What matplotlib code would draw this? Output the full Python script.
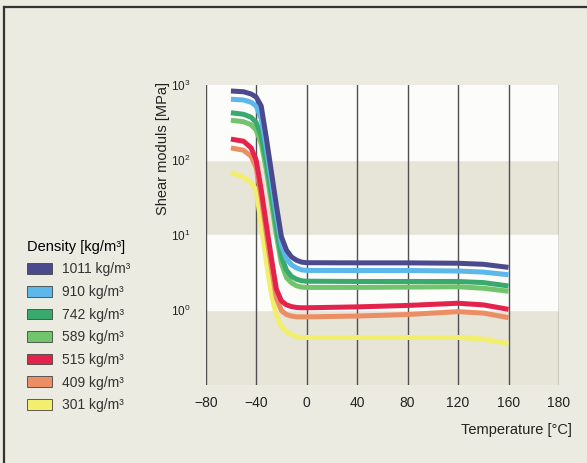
import matplotlib
matplotlib.use('Agg')
import matplotlib.pyplot as plt
from matplotlib.patches import Patch
from matplotlib.lines import Line2D

plt.rcParams['font.family'] = ['Liberation Sans', 'DejaVu Sans']
plt.rcParams['mathtext.fontset'] = 'custom'
plt.rcParams['mathtext.rm'] = 'Liberation Sans'

# temperature grid [°C]
temp = [-60, -50, -44, -40, -36, -32, -28, -24, -20, -16, -12, -8, -4, 0,
        40, 80, 120, 140, 160]

# shear modulus [MPa] per density
g_1011 = [832, 813, 759, 692, 525, 200, 71, 25, 9.5, 6.3, 5.1, 4.6, 4.35, 4.27,
          4.25, 4.25, 4.2, 4.07, 3.7]
g_910 = [646, 631, 589, 525, 355, 148, 52, 18.6, 7.4, 4.8, 4.0, 3.63, 3.43, 3.37,
         3.36, 3.36, 3.31, 3.2, 2.95]
g_742 = [427, 407, 372, 316, 209, 95, 35, 12.6, 5.2, 3.4, 2.8, 2.57, 2.45, 2.42,
         2.4, 2.4, 2.4, 2.32, 2.09]
g_589 = [339, 324, 295, 251, 166, 76, 28, 10, 4.2, 2.7, 2.3, 2.1, 2.02, 2.0,
         2.0, 2.02, 2.04, 1.95, 1.78]
g_515 = [190, 178, 145, 100, 40, 14, 5.0, 1.9, 1.32, 1.17, 1.11, 1.08, 1.07, 1.07,
         1.10, 1.15, 1.23, 1.17, 1.02]
g_409 = [145, 135, 112, 79, 32, 10.7, 3.8, 1.45, 0.98, 0.87, 0.83, 0.81, 0.81, 0.81,
         0.83, 0.87, 0.95, 0.91, 0.79]
g_301 = [68, 59, 50, 40, 14, 4.5, 1.66, 0.85, 0.60, 0.51, 0.47, 0.44, 0.43, 0.43,
         0.43, 0.43, 0.43, 0.41, 0.355]

series = [g_1011, g_910, g_742, g_589, g_515, g_409, g_301]
labels = ['1011 kg/m³', '910 kg/m³', '742 kg/m³', '589 kg/m³',
          '515 kg/m³', '409 kg/m³', '301 kg/m³']
colors = ['#4b4a8e', '#5cb8ea', '#3aa96e', '#72c46c', '#e3234b', '#eb8e64', '#f2ee6e']

xticks = [-80, -40, 0, 40, 80, 120, 160, 200]
xticklabels = ['\u221280', '\u221240', '0', '40', '80', '120', '160', '180']
yticks = [1, 10, 100, 1000]
yticklabels = ['$10^0$', '$10^1$', '$10^2$', '$10^3$']

fig = plt.figure(figsize=(5.87, 4.63), dpi=100, facecolor='#ecebe1')
ax = fig.add_axes([0.3504, 0.1685, 0.6019, 0.6479])
ax.set_facecolor('#e6e5d8')
ax.set_yscale('log')
ax.set_xlim(-80, 200)
ax.set_ylim(0.1, 1000)

ax.axhspan(100, 1000, color='#fcfcfa', zorder=0)
ax.axhspan(1, 10, color='#fcfcfa', zorder=0)
for xt in xticks:
    ax.axvline(xt, color='#505050', lw=1.0, zorder=1)

for vals, c in reversed(list(zip(series, colors))):
    ax.plot(temp, vals, color=c, lw=3.6, solid_capstyle='butt',
            solid_joinstyle='round', zorder=3)

for s in ax.spines.values():
    s.set_visible(False)
ax.set_xticks(xticks)
ax.set_xticklabels(xticklabels)
ax.set_yticks(yticks)
ax.set_yticklabels(yticklabels)
ax.minorticks_off()
ax.tick_params(axis='both', length=0, colors='#222222')
ax.tick_params(axis='x', pad=8, labelsize=10)
ax.tick_params(axis='y', pad=11, labelsize=8.5)

fig.text(0.278, 0.8235, 'Shear moduls [MPa]', rotation=90, ha='center', va='top',
         fontsize=10.5, color='#222222')
fig.text(0.975, 0.071, 'Temperature [°C]', ha='right', va='center',
         fontsize=10.5, color='#222222')

handles = [Patch(facecolor=c, edgecolor='#444444', lw=0.6) for c in colors]
leg = fig.legend(handles, labels, loc='upper left',
                 bbox_to_anchor=(0.046, 0.482), frameon=False,
                 title='Density [kg/m³]', title_fontsize=10.5, fontsize=10,
                 handlelength=1.8, handleheight=0.8, handletextpad=0.7,
                 labelspacing=0.62, borderpad=0, borderaxespad=0)
leg._legend_box.align = 'left'
for t in leg.get_texts():
    t.set_color('#333333')

fig.add_artist(Line2D([4 / 587, 1], [1 - 7 / 463, 1 - 7 / 463],
                      transform=fig.transFigure, color='#333333', lw=1.6))
fig.add_artist(Line2D([4 / 587, 4 / 587], [0, 1 - 7 / 463],
                      transform=fig.transFigure, color='#333333', lw=1.6))

fig.savefig('out.png', dpi=100, facecolor=fig.get_facecolor())
